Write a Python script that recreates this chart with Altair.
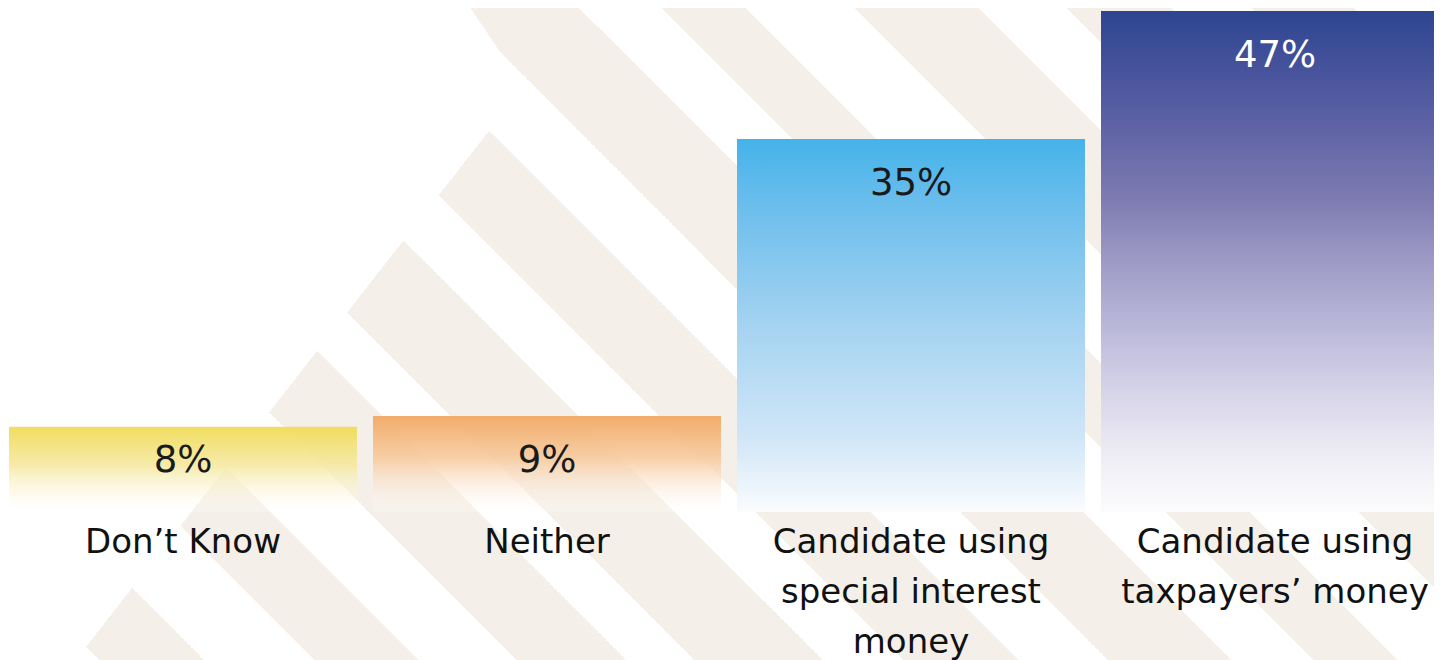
import altair as alt
import pandas as pd

# ---------------- data ----------------
categories = [
    "Don\u2019t Know",
    "Neither",
    "Candidate using\nspecial interest\nmoney",
    "Candidate using\ntaxpayers\u2019 money",
]
values = [8, 9, 35, 47]

# ---------------- style ----------------
W, H = 1426, 652                      # plot area (page margin 8px)
PX_PER_UNIT = 501 / 47
Y_MAX = 47 + 3 / PX_PER_UNIT
Y_MIN = -(H - 504) / PX_PER_UNIT
FONT = "DejaVu Sans"

bar_gradients = [
    [(0, "rgba(241,221,94,1)"), (0.45, "rgba(245,232,160,0.9)"), (1, "rgba(255,255,255,0.2)")],
    [(0, "rgba(242,172,106,1)"), (0.45, "rgba(247,203,160,0.9)"), (1, "rgba(255,255,255,0.2)")],
    [(0, "#44B3E9"), (0.15, "#66BCEC"), (0.5, "#A5D3F1"), (0.8, "#D0E6F7"), (1, "#FAFCFE")],
    [(0, "#2D4590"), (0.1, "#43519A"), (0.24, "#6064A6"), (0.38, "#7E7CB2"),
     (0.48, "#9996C3"), (0.58, "#AFADD2"), (0.68, "#C5C3DF"), (0.78, "#DAD8EA"),
     (0.88, "#EDECF4"), (1, "#FCFCFD")],
]
label_dy = [45, 56, 56, 56]
label_colors = ["#1a1a1a", "#1a1a1a", "#1a1a1a", "#ffffff"]

# decorative diagonal stripes (in y - x pixel units)
BEIGE = "#F4EFE8"
CLEAR = "rgba(255,255,255,0)"
stripe_bands = [(-1345, -1243), (-1163, -1058), (-970, -846), (-737, -653),
                (-571, -448), (-358, -243), (-163, -34), (34, 143), (242, 345), (456, 560)]


def grad(stops, x1=0, y1=0, x2=0, y2=1):
    return alt.LinearGradient(
        gradient="linear", x1=x1, y1=y1, x2=x2, y2=y2,
        stops=[alt.GradientStop(offset=o, color=c) for o, c in stops],
    )


def stripe_gradient(X0, Y0, w, h):
    s1 = Y0 - (X0 + w)
    span = w + h
    k = span / (w ** 2 + h ** 2)
    st = [(0, "#FFFFFF")]
    for a, b in stripe_bands:
        ta = min(max((a - s1) / span, 0), 1)
        tb = min(max((b - s1) / span, 0), 1)
        st += [(ta, "#FFFFFF"), (ta, BEIGE), (tb, BEIGE), (tb, "#FFFFFF")]
    st.append((1, "#FFFFFF"))
    return grad(st, x1=1, y1=0, x2=1 - w * k, y2=h * k)


def cut_gradient(X0, Y0, w, h, c, q0):
    # white where x + c*y < q0
    dq = w + abs(c) * h
    m = dq / (w ** 2 + c ** 2 * h ** 2)
    if c >= 0:
        v1 = 0
        q1 = X0 + c * Y0
    else:
        v1 = 1
        q1 = X0 + c * (Y0 + h)
    t0 = min(max((q0 - q1) / dq, 0), 1)
    return grad([(0, "#FFFFFF"), (t0, "#FFFFFF"), (t0, CLEAR), (1, CLEAR)],
                x1=0, y1=v1, x2=w * m, y2=v1 + c * h * m)


def deco_rect(fill, X0, Y0, w, h):
    return alt.Chart(pd.DataFrame({"d": [0]})).mark_rect(fill=fill, strokeWidth=0).encode(
        x=alt.value(X0), x2=alt.value(X0 + w), y=alt.value(Y0), y2=alt.value(Y0 + h))


# main stripes + diagonal cut of the upper-left side
PATCH = (430, 0, 160, 73)
deco = [
    deco_rect(stripe_gradient(0, 0, W, H), 0, 0, W, H),
    deco_rect(cut_gradient(0, 0, W, H, 0.781, 577.0), 0, 0, W, H),
    # top end of the first stripe
    deco_rect(stripe_gradient(*PATCH), *PATCH),
    deco_rect(cut_gradient(*PATCH, -0.673, 462.4), *PATCH),
]

df = pd.DataFrame({"cat": categories, "value": values})
df["zero"] = 0
df["label"] = [f"{v}%" for v in values]

x_enc = alt.X("cat:N", sort=categories, axis=None,
              scale=alt.Scale(domain=categories, range=[1, 1441],
                              paddingInner=16 / 364, paddingOuter=0))
y_scale = alt.Scale(domain=[Y_MIN, Y_MAX], nice=False, zero=False)

layers = list(deco)
for i, cat in enumerate(categories):
    sub = alt.Chart(df).transform_filter(alt.FieldEqualPredicate(field="cat", equal=cat))
    layers.append(sub.mark_bar(fill=grad(bar_gradients[i]), strokeWidth=0, clip=True).encode(
        x=x_enc, y=alt.Y("value:Q", scale=y_scale, axis=None), y2="zero:Q"))
    layers.append(sub.mark_text(font=FONT, fontSize=37, color=label_colors[i],
                                baseline="alphabetic", dy=label_dy[i]).encode(
        x=x_enc, y=alt.Y("value:Q", scale=y_scale, axis=None), text="label:N"))

cat_text = alt.Chart(df).mark_text(font=FONT, fontSize=34, color="#111111",
                                   baseline="alphabetic", dy=41, lineHeight=50,
                                   lineBreak="\n").encode(
    x=x_enc, y=alt.Y("zero:Q", scale=y_scale, axis=None), text="cat:N")
layers.append(cat_text)

chart = alt.layer(*layers).properties(
    width=W, height=H, padding=0, background="white",
    autosize=alt.AutoSizeParams(type="none"),
).configure_view(stroke=None)

chart.save("out.html", embed_options={"renderer": "svg", "actions": False})
